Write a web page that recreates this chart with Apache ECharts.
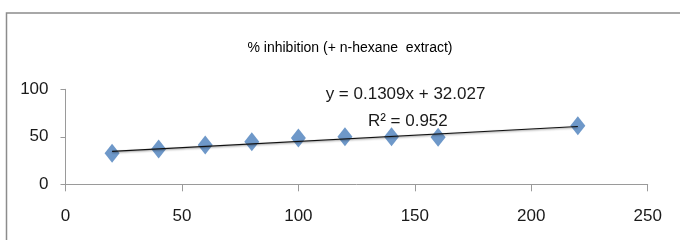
<!DOCTYPE html>
<html>
<head>
<meta charset="utf-8">
<script src="https://cdn.jsdelivr.net/npm/echarts@6/dist/echarts.min.js"></script>
<style>
  html, body { margin: 0; padding: 0; background: #fff; }
  #chart { width: 680px; height: 240px; }
</style>
</head>
<body>
<div id="chart"></div>
<script>
// concentration values (x) and % inhibition (y)
const concentrations = [20, 40, 60, 80, 100, 120, 140, 160, 220]
const inhibition = [32.6, 37.1, 41.3, 44.9, 48.8, 50.1, 50.1, 49.5, 61.7]
// linear trend line as printed on the chart
const trendSlope = 0.1309
const trendIntercept = 32.027
const trendR2 = '0.952'
const xTicks = [0, 50, 100, 150, 200, 250]
const yTicks = [0, 50, 100]

const font = '"Liberation Sans", sans-serif'
const trendX = [concentrations[0], concentrations[concentrations.length - 1]]
const trendData = trendX.map(x => [x, trendSlope * x + trendIntercept])

const chart = echarts.init(document.getElementById('chart'), null, { renderer: 'canvas' })
chart.setOption({
  animation: false,
  backgroundColor: '#fff',
  title: {
    text: '% inhibition (+ n-hexane  extract)',
    left: 345,
    textAlign: 'center',
    top: 36,
    textStyle: { fontFamily: font, fontSize: 14, fontWeight: 'normal', color: '#000' }
  },
  graphic: [
    {
      type: 'rect',
      shape: { x: 6.5, y: 13, width: 700, height: 260 },
      style: { fill: 'none', stroke: '#8c8c8c', lineWidth: 1.5 }
    }
  ],
  grid: { left: 65.5, right: 32.3, top: 89.3, bottom: 55.7 },
  xAxis: {
    type: 'value',
    min: xTicks[0],
    max: xTicks[xTicks.length - 1],
    interval: 50,
    splitLine: { show: false },
    axisLine: { lineStyle: { color: '#9a9a9a', width: 1 } },
    axisTick: { show: true, length: 7, lineStyle: { color: '#9a9a9a' } },
    axisLabel: { margin: 24, fontFamily: font, fontSize: 17, color: '#1a1a1a' }
  },
  yAxis: {
    type: 'value',
    min: yTicks[0],
    max: yTicks[yTicks.length - 1],
    interval: 50,
    splitLine: { show: false },
    axisLine: { show: true, lineStyle: { color: '#9a9a9a', width: 1 } },
    axisTick: { show: true, length: 5, lineStyle: { color: '#9a9a9a' } },
    axisLabel: { margin: 17, fontFamily: font, fontSize: 17, color: '#1a1a1a' }
  },
  series: [
    {
      type: 'line',
      data: trendData,
      symbol: 'none',
      z: 3,
      lineStyle: {
        color: '#111',
        width: 1.2,
        shadowColor: 'rgba(0,0,0,0.45)',
        shadowBlur: 2,
        shadowOffsetY: 1
      }
    },
    {
      type: 'scatter',
      data: concentrations.map((x, i) => [x, inhibition[i]]),
      symbol: 'diamond',
      symbolSize: [15, 19],
      z: 2,
      itemStyle: { color: '#4a7ebb' }
    }
  ]
})

// equation label placed in data space
const eqPos = chart.convertToPixel({ gridIndex: 0 }, [146, 95])
const r2Pos = chart.convertToPixel({ gridIndex: 0 }, [147, 66])
chart.setOption({
  graphic: [
    {},
    {
      type: 'text',
      x: eqPos[0], y: eqPos[1],
      style: {
        text: 'y = ' + trendSlope + 'x + ' + trendIntercept,
        font: '17px ' + font,
        fill: '#1a1a1a',
        textAlign: 'center',
        textVerticalAlign: 'middle'
      }
    },
    {
      type: 'text',
      x: r2Pos[0], y: r2Pos[1],
      style: {
        text: 'R\u00b2 = ' + trendR2,
        font: '17px ' + font,
        fill: '#1a1a1a',
        textAlign: 'center',
        textVerticalAlign: 'middle'
      }
    }
  ]
})
</script>
</body>
</html>
